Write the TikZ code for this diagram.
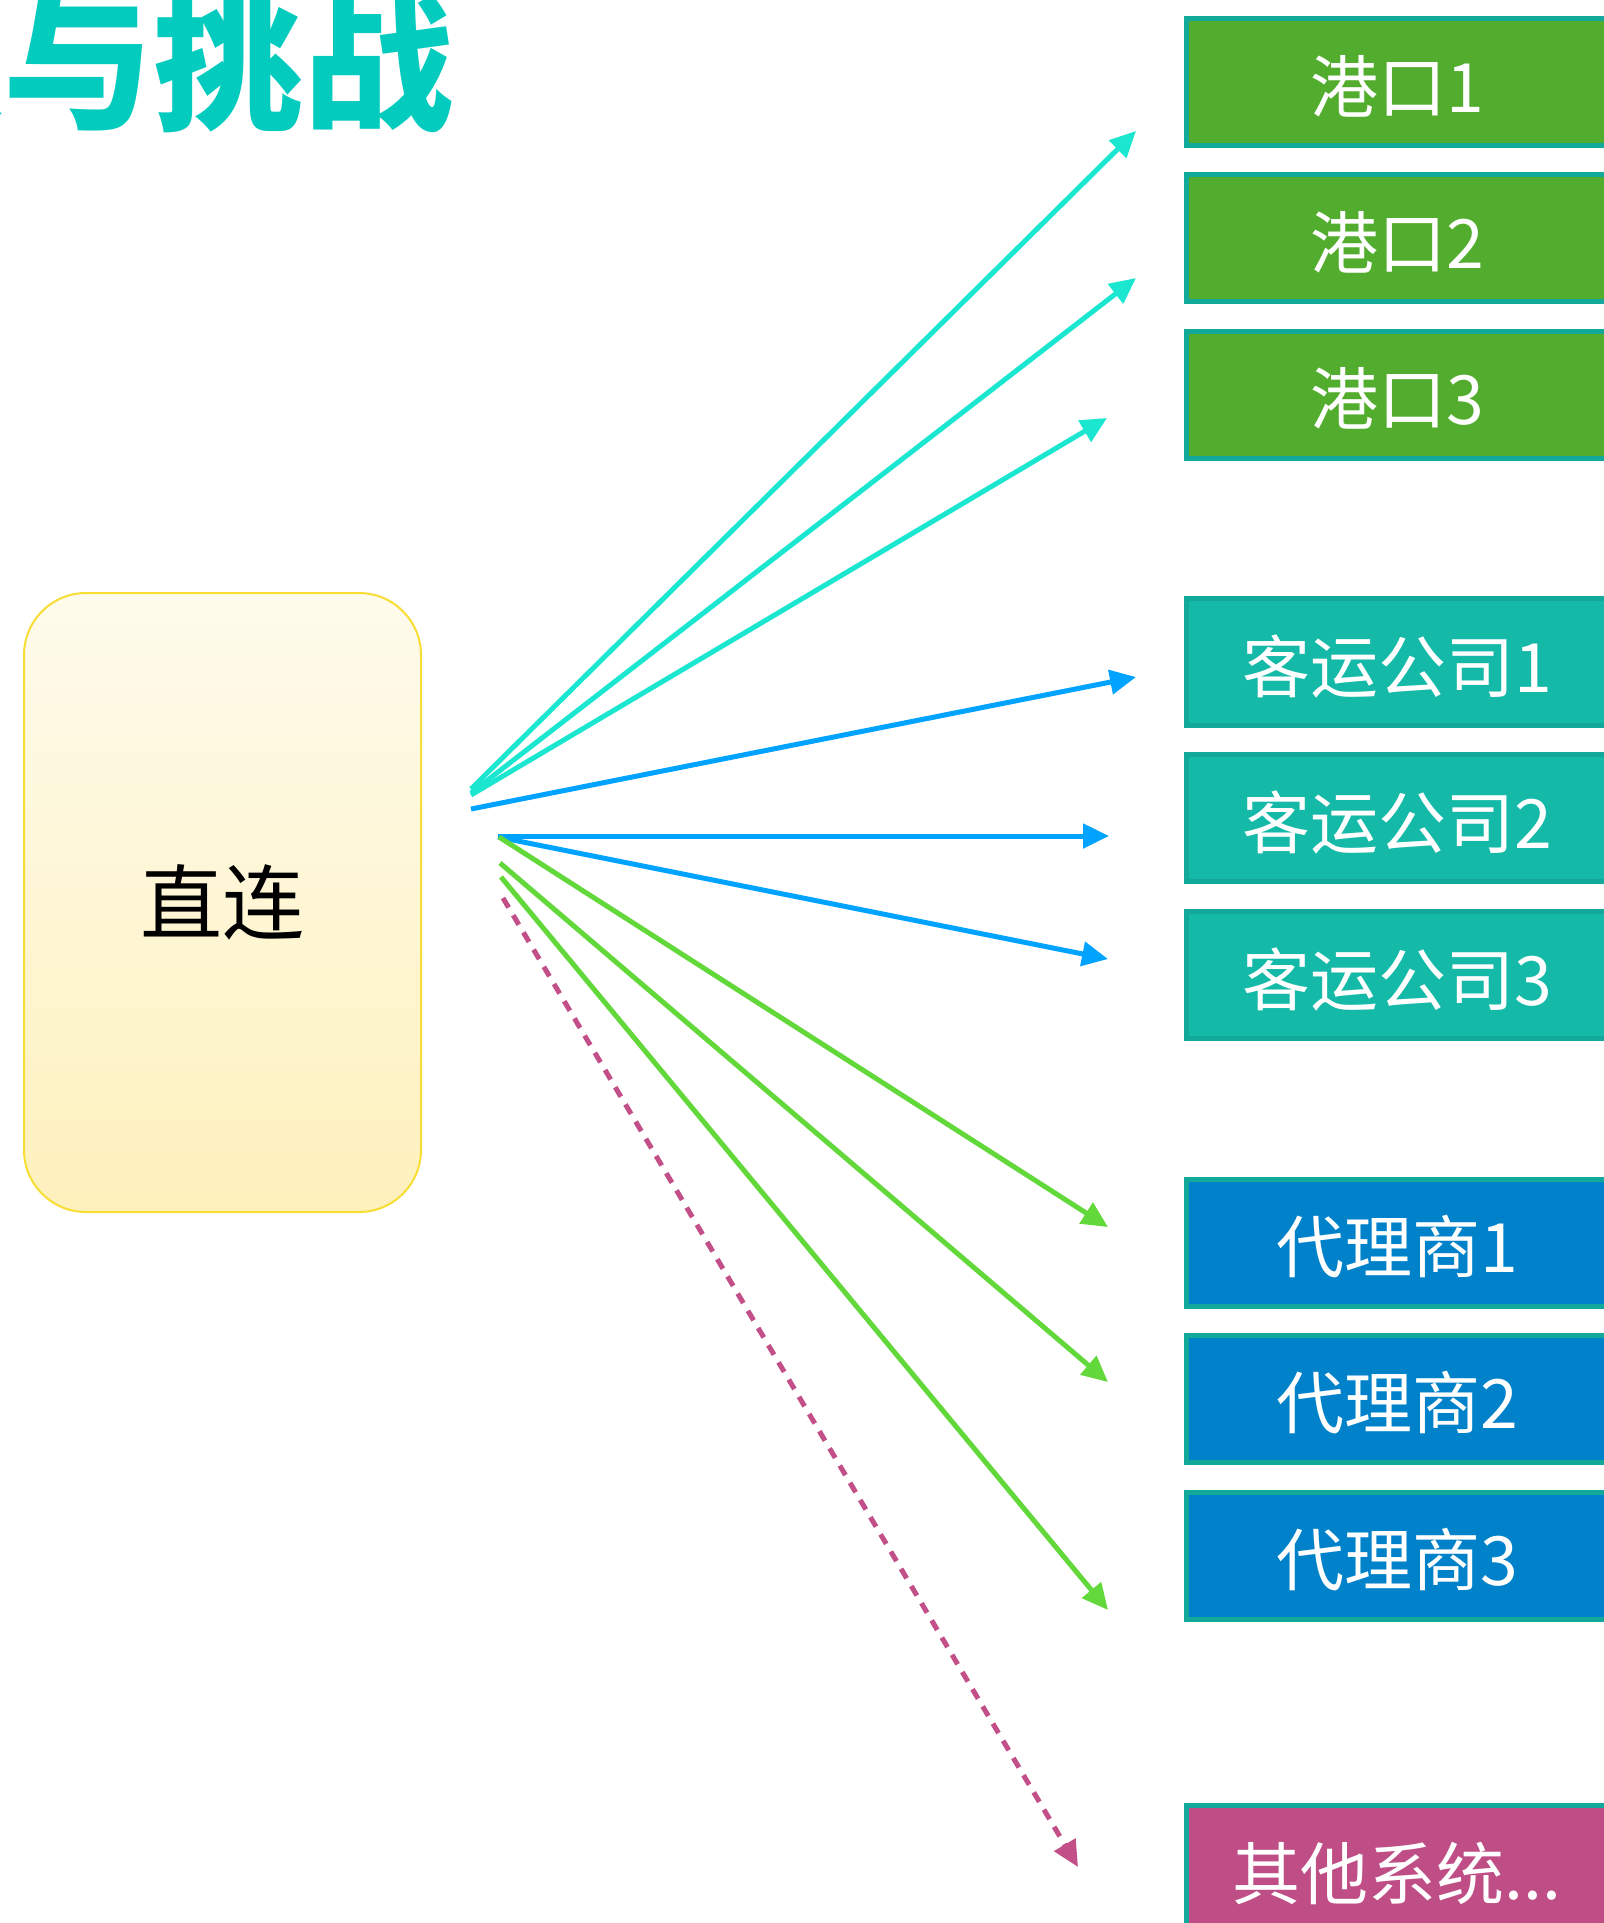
\documentclass[tikz,border=0pt]{standalone}
\usepackage{fontspec}
\newfontfamily\cjk{Noto Sans CJK SC}
\usetikzlibrary{arrows.meta}
\definecolor{titlec}{HTML}{03CCBF}
\definecolor{cyanc}{HTML}{1BE7D0}
\definecolor{bluec}{HTML}{00A3FF}
\definecolor{greenc}{HTML}{62D83A}
\definecolor{pinkc}{HTML}{C24F88}
\definecolor{portfill}{HTML}{52AD2E}
\definecolor{paxfill}{HTML}{14B9A7}
\definecolor{agentfill}{HTML}{0082CB}
\definecolor{otherfill}{HTML}{C04E86}
\definecolor{boxborder}{HTML}{13A99A}
\definecolor{ytop}{HTML}{FEFBEC}
\definecolor{ybot}{HTML}{FEF1BD}
\definecolor{yborder}{HTML}{F8DD35}
\newcommand\lowlbl[1]{\raisebox{-4pt}[\height][\depth]{#1}}
\begin{document}
\begin{tikzpicture}[x=1pt,y=-1pt,
  box/.style={draw=boxborder, line width=5pt, minimum width=421pt, minimum height=127pt,
    inner sep=0pt, text=white, font=\cjk\fontsize{68}{68}\selectfont},
  conn/.style={line width=5pt, -{Triangle[length=26pt,width=24pt]}}]
\clip (0,0) rectangle (1604,1923);
\fill[white] (0,0) rectangle (1604,1923);

\node[anchor=base east, inner sep=0pt, text=titlec,
  font=\cjk\bfseries\fontsize{150}{150}\selectfont] (title) at (454,118) {现状与挑战};

\node[draw=yborder, line width=2pt, rounded corners=62pt, top color=ytop, bottom color=ybot,
  minimum width=397pt, minimum height=619pt, inner sep=0pt,
  font=\cjk\fontsize{82}{82}\selectfont] (zl) at (222.5,902.5) {直连};

\node[box, fill=portfill] (p1) at (1397,82) {\lowlbl{港口1}};
\node[box, fill=portfill] (p2) at (1397,238) {\lowlbl{港口2}};
\node[box, fill=portfill] (p3) at (1397,394.5) {\lowlbl{港口3}};
\node[box, fill=paxfill] (k1) at (1397,662) {\lowlbl{客运公司1}};
\node[box, fill=paxfill] (k2) at (1397,818) {\lowlbl{客运公司2}};
\node[box, fill=paxfill] (k3) at (1397,975) {\lowlbl{客运公司3}};
\node[box, fill=agentfill] (a1) at (1397,1243) {\lowlbl{代理商1}};
\node[box, fill=agentfill] (a2) at (1397,1399) {\lowlbl{代理商2}};
\node[box, fill=agentfill] (a3) at (1397,1555.5) {\lowlbl{代理商3}};
\node[box, fill=otherfill] (o1) at (1397,1869) {\lowlbl{其他系统...}};

\coordinate (c1s) at (471,789);  \coordinate (c1e) at (1136,131);
\coordinate (c2s) at (471,793);  \coordinate (c2e) at (1136,278);
\coordinate (c3s) at (471,795);  \coordinate (c3e) at (1107,418);
\coordinate (b1s) at (471,809);  \coordinate (b1e) at (1136,677);
\coordinate (b2s) at (498,836);  \coordinate (b2e) at (1109,836);
\coordinate (b3s) at (498,837);  \coordinate (b3e) at (1108,959);
\coordinate (g1s) at (499,837);  \coordinate (g1e) at (1108,1227);
\coordinate (g2s) at (500,863);  \coordinate (g2e) at (1108,1382);
\coordinate (g3s) at (501,877);  \coordinate (g3e) at (1108,1610);
\coordinate (ps) at (503,898);   \coordinate (pe) at (1078,1867);

\draw[conn, cyanc] (c1s) -- (c1e);
\draw[conn, cyanc] (c2s) -- (c2e);
\draw[conn, cyanc] (c3s) -- (c3e);
\draw[conn, bluec] (b1s) -- (b1e);
\draw[conn, bluec] (b2s) -- (b2e);
\draw[conn, bluec] (b3s) -- (b3e);
\draw[conn, greenc] (g1s) -- (g1e);
\draw[conn, greenc] (g2s) -- (g2e);
\draw[conn, greenc] (g3s) -- (g3e);
\draw[conn, pinkc, dash pattern=on 11pt off 9pt] (ps) -- (pe);
\end{tikzpicture}
\end{document}
